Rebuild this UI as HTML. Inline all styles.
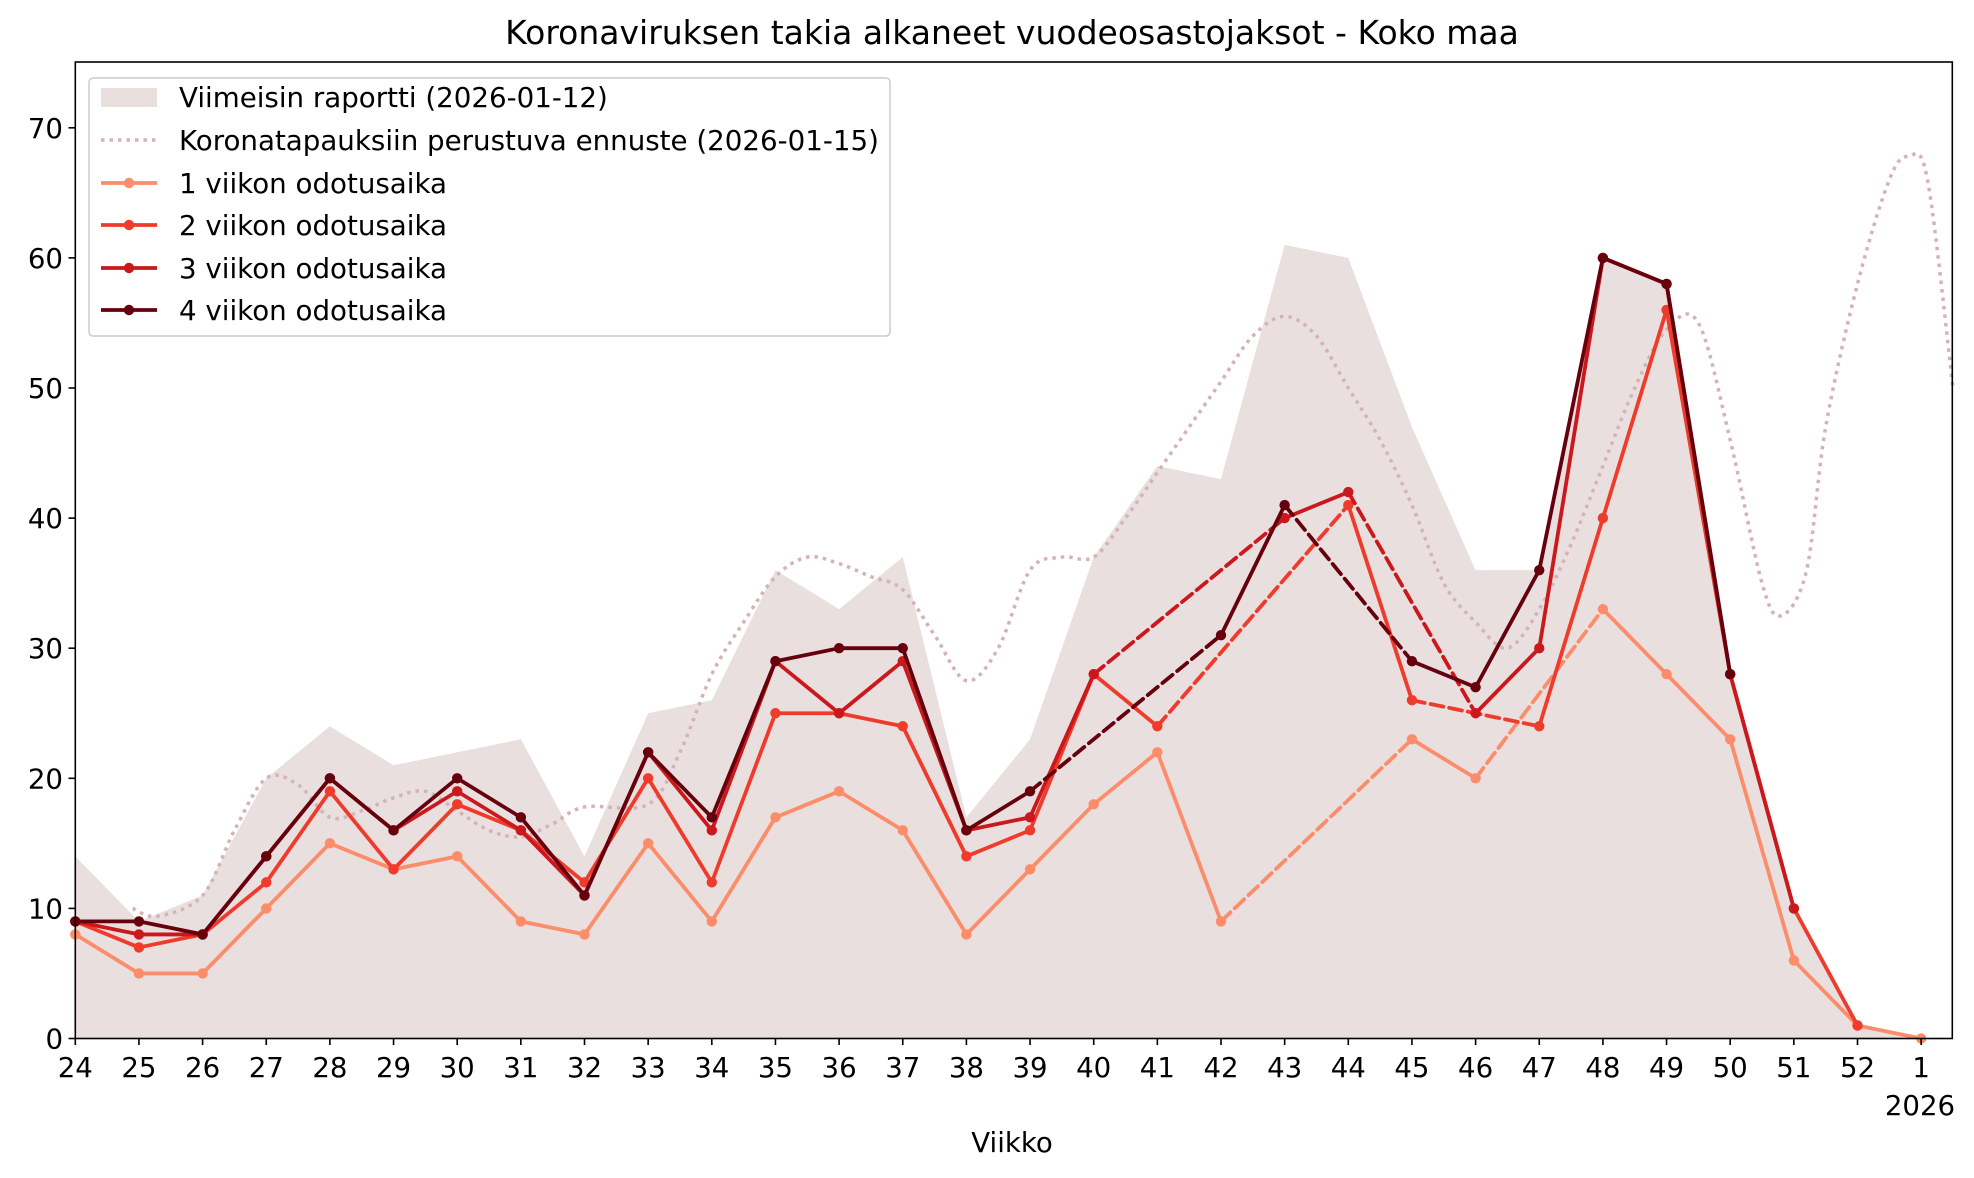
<!DOCTYPE html>
<html><head><meta charset="utf-8"><style>
html,body{margin:0;padding:0;background:#fff;}
svg{display:block;font-family:"DejaVu Sans","Liberation Sans",sans-serif;}
</style></head><body>
<svg id="s" width="1974" height="1178" viewBox="0 0 1974 1178" xmlns="http://www.w3.org/2000/svg">
<rect width="1974" height="1178" fill="#fff"/>
<g id="plot"></g>
<rect x="75.3" y="62" width="1877" height="976.5" fill="none" stroke="#000" stroke-width="1.6"/>
<g id="ticks" font-size="27.6" fill="#000"></g>
<text x="1012" y="44" font-size="33" text-anchor="middle">Koronaviruksen takia alkaneet vuodeosastojaksot - Koko maa</text>
<text x="1012" y="1152" font-size="27.6" text-anchor="middle">Viikko</text>
<text x="1920" y="1115" font-size="27.6" text-anchor="middle">2026</text>
<g>
<rect x="89" y="78" width="801" height="258" rx="4" fill="#fff" fill-opacity="0.8" stroke="#ccc" stroke-width="1.5"/>
<rect x="101" y="88" width="56" height="19" fill="#eadfdf"/>
<line x1="101" y1="140" x2="157" y2="140" stroke="#d4b3b8" stroke-width="3.5" stroke-dasharray="3.5,5"/>
<line x1="101" y1="183" x2="157" y2="183" stroke="#fc8d6a" stroke-width="3.8"/><circle cx="129" cy="183" r="5.2" fill="#fc8d6a"/>
<line x1="101" y1="225" x2="157" y2="225" stroke="#ef3b2c" stroke-width="3.8"/><circle cx="129" cy="225" r="5.2" fill="#ef3b2c"/>
<line x1="101" y1="268" x2="157" y2="268" stroke="#cb181d" stroke-width="3.8"/><circle cx="129" cy="268" r="5.2" fill="#cb181d"/>
<line x1="101" y1="310" x2="157" y2="310" stroke="#67000d" stroke-width="3.8"/><circle cx="129" cy="310" r="5.2" fill="#67000d"/>
<g font-size="27.7">
<text x="179" y="107">Viimeisin raportti (2026-01-12)</text>
<text x="179" y="150">Koronatapauksiin perustuva ennuste (2026-01-15)</text>
<text x="179" y="193">1 viikon odotusaika</text>
<text x="179" y="235">2 viikon odotusaika</text>
<text x="179" y="278">3 viikon odotusaika</text>
<text x="179" y="320">4 viikon odotusaika</text>
</g></g>
</svg>
<script>
const NS="http://www.w3.org/2000/svg";
const X=i=>75.3+63.65*i, Y=v=>1038.5-13.01*v;
const plot=document.getElementById('plot'), ticks=document.getElementById('ticks');
function el(t,a,p){const e=document.createElementNS(NS,t);for(const k in a)e.setAttribute(k,a[k]);(p||plot).appendChild(e);return e;}
const area=[14,9,11,20,24,21,22,23,14,25,26,36,33,37,17,23,37,44,43,61,60,47,36,36,60,58,28,10,1,0];
let d="M"+X(0)+","+Y(0);area.forEach((v,i)=>d+=" L"+X(i)+","+Y(v));d+=" L"+X(29)+","+Y(0)+"Z";
el('path',{d:d,fill:'#eadfdf'});
const f=[[0.9,10],[1.3,9.4],[2,11],[2.5,16],[3,20],[3.5,19.5],[4,17],[4.5,17.5],[5,18.5],[5.5,19],[6,17.5],[6.5,16],[7,15.5],[7.5,16.5],[8,17.8],[9,18],[9.5,22],[10,28],[10.5,32],[11,35.5],[11.5,37],[12,36.5],[12.5,35.5],[13,34.5],[13.5,31],[14,27.5],[14.5,30],[15,36],[15.5,37],[16,37],[16.5,40],[17,43.5],[17.5,47],[18,50.5],[18.5,54],[19,55.5],[19.5,54],[20,50],[20.5,46],[21,41],[21.5,35],[22,32],[22.5,30],[23,33],[23.5,38],[24,44],[24.5,50],[25,54.5],[25.5,55],[26,46],[26.5,35],[26.8,32.5],[27.2,36],[27.5,47],[28,58],[28.5,66],[28.8,67.8],[29.1,66],[29.5,50]];
let p=f.map(a=>[X(a[0]),Y(a[1])]);d="M"+p[0];
for(let i=0;i<p.length-1;i++){const p0=p[i-1]||p[i],p1=p[i],p2=p[i+1],p3=p[i+2]||p2;
d+=` C${p1[0]+(p2[0]-p0[0])/6},${p1[1]+(p2[1]-p0[1])/6} ${p2[0]-(p3[0]-p1[0])/6},${p2[1]-(p3[1]-p1[1])/6} ${p2[0]},${p2[1]}`;}
el('path',{d:d,fill:'none',stroke:'#d4b3b8','stroke-width':3.5,'stroke-dasharray':'3.5,5'});
const N=null;
const series=[
['#fc8d6a',[8,5,5,10,15,13,14,9,8,15,9,17,19,16,8,13,18,22,9,N,N,23,20,N,33,28,23,6,1,0]],
['#ef3b2c',[9,7,8,12,19,13,18,16,12,20,12,25,25,24,14,16,28,24,N,N,41,26,N,24,40,56,28,10,1]],
['#cb181d',[9,8,8,14,20,16,19,16,11,22,16,29,25,29,16,17,28,N,N,40,42,N,25,30,60,58,28,10]],
['#67000d',[9,9,8,14,20,16,20,17,11,22,17,29,30,30,16,19,N,N,31,41,N,29,27,36,60,58,28]]];
series.forEach(([c,v])=>{
 let idx=v.map((a,i)=>a===N?-1:i).filter(i=>i>=0);
 for(let k=0;k<idx.length-1;k++){const a=idx[k],b=idx[k+1];
  const o={x1:X(a),y1:Y(v[a]),x2:X(b),y2:Y(v[b]),stroke:c,'stroke-width':3.8,'stroke-linecap':'round'};
  if(b-a>1)o['stroke-dasharray']='13,6';el('line',o);}
 idx.forEach(i=>el('circle',{cx:X(i),cy:Y(v[i]),r:5.2,fill:c}));
});
const labs=[];for(let w=24;w<=52;w++)labs.push(w);labs.push(1);
labs.forEach((w,i)=>{el('line',{x1:X(i),y1:1038.5,x2:X(i),y2:1045,stroke:'#000','stroke-width':1.6},ticks);
 const t=el('text',{x:X(i),y:1077,'text-anchor':'middle'},ticks);t.textContent=w;});
for(let v=0;v<=70;v+=10){el('line',{x1:68.5,y1:Y(v),x2:75.3,y2:Y(v),stroke:'#000','stroke-width':1.6},ticks);
 const t=el('text',{x:63,y:Y(v)+10,'text-anchor':'end'},ticks);t.textContent=v;}
</script>
</body></html>
